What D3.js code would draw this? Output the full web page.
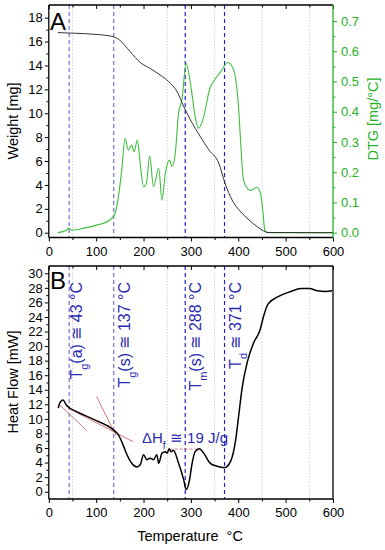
<!DOCTYPE html>
<html>
<head>
<meta charset="utf-8">
<script src="https://cdn.jsdelivr.net/npm/d3@7/dist/d3.min.js"></script>
<style>
body { margin: 0; background: #fff; }
svg { display: block; font-family: "Liberation Sans", Arial, sans-serif; }
</style>
</head>
<body>
<div id="chart"></div>
<script>
// ---- data ----
// panel A: weight (black) and DTG (green)
var weightTemp = [19, 50, 100, 137, 150, 172, 193, 214, 235, 253, 271, 285, 299, 320, 338, 359, 372, 387, 405, 423, 440, 454, 462, 600];
var weightVal  = [16.75, 16.7, 16.6, 16.4, 16.1, 15.15, 14.25, 13.75, 13.2, 12.65, 11.8, 10.55, 9.44, 8.04, 6.93, 5.81, 4.14, 2.74, 1.76, 1.06, 0.5, 0.14, 0.02, 0.0];

var dtgTemp = [19, 38, 41, 49, 75, 101, 129, 140, 147, 154, 161, 168, 175, 180, 187, 193, 200, 206, 213, 221, 232, 239, 246, 255, 260, 267, 274, 281, 290, 299, 309, 316, 327, 340, 348, 362, 378, 390, 401, 405, 411, 420, 426, 439, 447, 452, 456, 462, 500, 600];
var dtgVal  = [0, 0.008, 0.015, 0.008, 0.015, 0.025, 0.042, 0.064, 0.119, 0.207, 0.312, 0.273, 0.29, 0.268, 0.306, 0.229, 0.152, 0.163, 0.254, 0.152, 0.213, 0.108, 0.196, 0.24, 0.218, 0.262, 0.395, 0.439, 0.56, 0.494, 0.384, 0.345, 0.384, 0.477, 0.5, 0.53, 0.563, 0.54, 0.405, 0.3, 0.174, 0.145, 0.14, 0.15, 0.13, 0.07, 0.008, 0, 0, 0];

// panel B: heat flow
var hfTemp = [20, 23, 30, 37, 44, 62, 97, 136, 147, 157, 165, 175, 186, 193, 200, 207, 214, 221, 228, 232, 239, 246, 250, 254, 258, 263, 274, 285, 290, 297, 302, 309, 318, 327, 341, 355, 371, 384, 394, 401, 408, 419, 432, 446, 453, 463, 483, 511, 532, 550, 567, 585, 598];
var hfVal  = [11.5, 12.15, 12.6, 11.9, 11.5, 10.9, 9.86, 8.5, 7.8, 6.4, 5.07, 3.9, 3.4, 3.7, 5.07, 4.4, 4.6, 4.4, 5.07, 3.9, 5.3, 5.5, 5.3, 5.9, 5.5, 5.7, 3.9, 1.6, 0.3, 1.6, 3.7, 5.5, 5.9, 5.3, 3.9, 3.5, 3.3, 4.2, 6.9, 10.5, 14.2, 17.8, 20.4, 22.2, 24, 25.8, 26.75, 27.5, 27.9, 27.9, 27.6, 27.5, 27.6];

// transition markers
var markerTemp = [43, 137, 288, 371];
var markerMain = ["T", "T", "T", "T"];
var markerSub  = ["g", "g", "m", "d"];
var markerRest = ["(a) \u2245 43 \u00B0C", "(s) \u2245 137 \u00B0C", "(s) \u2245 288 \u00B0C", " \u2245 371 \u00B0C"];

// tangent construction lines (temp, heat flow pairs)
var tangentLines = [
  [[23.6, 11.9], [80, 8.4]],
  [[40, 11.5], [178, 6.87]],
  [[101, 13.05], [142, 7.7]]
];
var baselineHf = [[255, 5.85], [318, 5.85]];

var xTicks = [0, 100, 200, 300, 400, 500, 600];
var gridTemps = [50, 250, 350, 450, 550];

// ---- layout ----
var width = 385, height = 550;
var left = 48.8, right = 333;
var aTop = 5, aBot = 237.5, bTop = 266, bBot = 499;

var svg = d3.select("#chart").append("svg")
  .attr("width", width)
  .attr("height", height);

var x = d3.scaleLinear().domain([0, 600]).range([left, right]);
var yW = d3.scaleLinear().domain([-0.4, 19.06]).range([aBot, aTop]);
var yD = d3.scaleLinear().domain([-0.016, 0.753]).range([aBot, aTop]);
var yH = d3.scaleLinear().domain([-1, 31]).range([bBot, bTop]);

var green = "#26b126";
var markerColor = ["#7373cf", "#7373cf", "#2323c4", "#2323c4"];

function styleAxis(g, color, size) {
  g.select(".domain").remove();
  g.selectAll(".tick line").attr("stroke", color).attr("stroke-width", 1);
  g.selectAll(".tick text").attr("fill", color).style("font-size", size + "px");
}

function panel(top, bot) {
  // gridlines
  svg.append("g").selectAll("line").data(gridTemps).enter().append("line")
    .attr("x1", d => x(d)).attr("x2", d => x(d))
    .attr("y1", top).attr("y2", bot)
    .attr("stroke", "#c9c9c9").attr("stroke-width", 0.8)
    .attr("stroke-dasharray", "1.5,1.5");
  // marker lines
  svg.append("g").selectAll("line").data(markerTemp).enter().append("line")
    .attr("x1", d => x(d)).attr("x2", d => x(d))
    .attr("y1", top).attr("y2", bot)
    .attr("stroke", (d, i) => markerColor[i]).attr("stroke-width", 1.2)
    .attr("stroke-dasharray", "4,3");

  // bottom axis
  var b = svg.append("g").attr("transform", "translate(0," + bot + ")")
    .call(d3.axisBottom(x).tickValues(xTicks).tickSize(4).tickPadding(5));
  styleAxis(b, "#000", 13);
  var bm = svg.append("g").attr("transform", "translate(0," + bot + ")")
    .call(d3.axisBottom(x).tickValues(d3.range(50, 600, 100)).tickSize(2.5).tickFormat(""));
  styleAxis(bm, "#000", 13);
  // top ticks, inward
  var t = svg.append("g").attr("transform", "translate(0," + top + ")")
    .call(d3.axisBottom(x).tickValues(xTicks).tickSize(4).tickFormat(""));
  styleAxis(t, "#000", 13);
  var tm = svg.append("g").attr("transform", "translate(0," + top + ")")
    .call(d3.axisBottom(x).tickValues(d3.range(50, 600, 100)).tickSize(2.5).tickFormat(""));
  styleAxis(tm, "#000", 13);
}

panel(aTop, aBot);
panel(bTop, bBot);

// ---- panel A axes ----
var la = svg.append("g").attr("transform", "translate(" + left + ",0)")
  .call(d3.axisLeft(yW).tickValues(d3.range(0, 19, 2)).tickSize(4).tickPadding(2));
styleAxis(la, "#000", 13);
var lam = svg.append("g").attr("transform", "translate(" + left + ",0)")
  .call(d3.axisLeft(yW).tickValues(d3.range(1, 19, 2)).tickSize(2.5).tickFormat(""));
styleAxis(lam, "#000", 13);

var ra = svg.append("g").attr("transform", "translate(" + right + ",0)")
  .call(d3.axisRight(yD).tickValues(d3.range(0, 0.71, 0.1)).tickFormat(d3.format(".1f")).tickSize(4).tickPadding(4));
styleAxis(ra, green, 13);
var ram = svg.append("g").attr("transform", "translate(" + right + ",0)")
  .call(d3.axisRight(yD).tickValues(d3.range(0.05, 0.75, 0.1)).tickSize(2.5).tickFormat(""));
styleAxis(ram, green, 13);

// ---- panel B axes ----
var lb = svg.append("g").attr("transform", "translate(" + left + ",0)")
  .call(d3.axisLeft(yH).tickValues(d3.range(0, 31, 2)).tickSize(4).tickPadding(2));
styleAxis(lb, "#000", 13);
var lbm = svg.append("g").attr("transform", "translate(" + left + ",0)")
  .call(d3.axisLeft(yH).tickValues(d3.range(1, 31, 2)).tickSize(2.5).tickFormat(""));
styleAxis(lbm, "#000", 13);

// ---- curves ----
var weightData = weightTemp.map((t, i) => [t, weightVal[i]]);
var dtgData = dtgTemp.map((t, i) => [t, dtgVal[i]]);
var hfData = hfTemp.map((t, i) => [t, hfVal[i]]);

svg.append("path").datum(dtgData)
  .attr("d", d3.line().x(d => x(d[0])).y(d => yD(d[1])).curve(d3.curveMonotoneX))
  .attr("fill", "none").attr("stroke", "#3fbf3f").attr("stroke-width", 1.1);

svg.append("path").datum(weightData)
  .attr("d", d3.line().x(d => x(d[0])).y(d => yW(d[1])).curve(d3.curveMonotoneX))
  .attr("fill", "none").attr("stroke", "#333").attr("stroke-width", 1);

// tangents and baseline
svg.append("g").selectAll("line").data(tangentLines).enter().append("line")
  .attr("x1", d => x(d[0][0])).attr("y1", d => yH(d[0][1]))
  .attr("x2", d => x(d[1][0])).attr("y2", d => yH(d[1][1]))
  .attr("stroke", "#cc6b6b").attr("stroke-width", 0.9);
svg.append("line")
  .attr("x1", x(baselineHf[0][0])).attr("y1", yH(baselineHf[0][1]))
  .attr("x2", x(baselineHf[1][0])).attr("y2", yH(baselineHf[1][1]))
  .attr("stroke", "#cc6b6b").attr("stroke-width", 0.9).attr("stroke-dasharray", "3,2");

svg.append("path").datum(hfData)
  .attr("d", d3.line().x(d => x(d[0])).y(d => yH(d[1])).curve(d3.curveMonotoneX))
  .attr("fill", "none").attr("stroke", "#000").attr("stroke-width", 1.5);

// ---- frames ----
function frame(top, bot, rightColor) {
  svg.append("line").attr("x1", left).attr("x2", left).attr("y1", top).attr("y2", bot).attr("stroke", "#000").attr("stroke-width", 1.3);
  svg.append("line").attr("x1", left).attr("x2", right).attr("y1", top).attr("y2", top).attr("stroke", "#000").attr("stroke-width", 1.3);
  svg.append("line").attr("x1", left).attr("x2", right).attr("y1", bot).attr("y2", bot).attr("stroke", "#000").attr("stroke-width", 1.3);
  svg.append("line").attr("x1", right).attr("x2", right).attr("y1", top).attr("y2", bot).attr("stroke", rightColor).attr("stroke-width", 1.3);
}
frame(aTop, aBot, green);
frame(bTop, bBot, "#000");

// ---- labels ----
svg.append("text").attr("x", 50).attr("y", 30).style("font-size", "24px").text("A");
svg.append("text").attr("x", 50).attr("y", 289).style("font-size", "24px").text("B");

svg.append("text")
  .attr("transform", "translate(17.5," + 121 + ") rotate(-90)")
  .attr("text-anchor", "middle").style("font-size", "14.5px")
  .text("Weight [mg]");
svg.append("text")
  .attr("transform", "translate(378," + 119 + ") rotate(-90)")
  .attr("text-anchor", "middle").style("font-size", "14.5px").attr("fill", green)
  .text("DTG [mg/\u00B0C]");
svg.append("text")
  .attr("transform", "translate(17.5," + 382 + ") rotate(-90)")
  .attr("text-anchor", "middle").style("font-size", "14.5px")
  .text("Heat Flow [mW]");
svg.append("text")
  .attr("x", 190).attr("y", 541)
  .attr("text-anchor", "middle").style("font-size", "14.5px")
  .style("white-space", "pre")
  .text("Temperature  \u00B0C");

// rotated transition labels
markerTemp.forEach(function(t, i) {
  var off = i == 0 ? 13 : 16;
  var txt = svg.append("text")
    .attr("transform", "translate(" + (x(t) + off) + ",282) rotate(-90)")
    .attr("text-anchor", "end")
    .attr("fill", "#2a2ab0")
    .style("font-size", "16px")
    .style("white-space", "pre");
  txt.append("tspan").text(markerMain[i]);
  txt.append("tspan").attr("baseline-shift", "sub").style("font-size", "11px").text(markerSub[i]);
  txt.append("tspan").text(markerRest[i]);
});

var dh = svg.append("text").attr("x", 142).attr("y", 443)
  .attr("fill", "#2a2ab0").style("font-size", "15px").style("white-space", "pre");
dh.append("tspan").text("\u0394H");
dh.append("tspan").attr("baseline-shift", "sub").style("font-size", "10.5px").text("f");
dh.append("tspan").text(" \u2245 19 J/g");
</script>
</body>
</html>
